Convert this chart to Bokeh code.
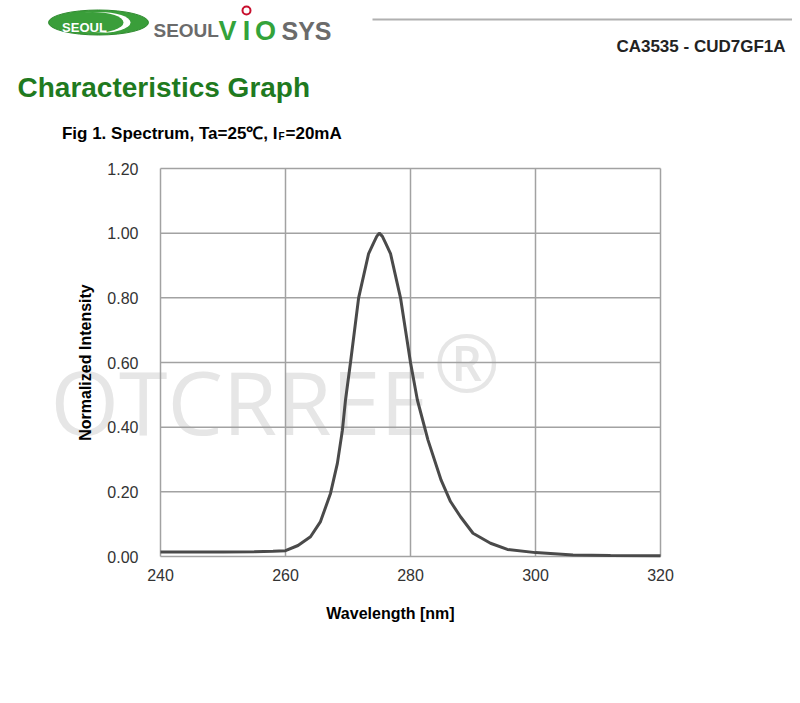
from bokeh.plotting import figure
from bokeh.models import Range1d, Label, FixedTicker, PrintfTickFormatter
from bokeh.embed import file_html
from bokeh.resources import INLINE

# spectrum
wavelength = [240, 245, 250, 255, 258, 260, 262, 264, 265.6, 267.2, 268.3, 269.1,
              269.6, 270.4, 271.7, 273.3, 274.1, 274.6, 275, 275.5, 276, 276.8,
              278.4, 280, 281.1, 282.8, 284.9, 286.4, 288, 290, 292.8, 295.5,
              300, 306, 312, 320]
intensity = [0.014, 0.014, 0.014, 0.015, 0.016, 0.018, 0.034, 0.061, 0.108, 0.195, 0.288, 0.39,
             0.484, 0.60, 0.80, 0.937, 0.97, 0.99, 1.0, 0.99, 0.97, 0.937,
             0.80, 0.60, 0.484, 0.36, 0.236, 0.17, 0.123, 0.072, 0.041, 0.022,
             0.012, 0.005, 0.003, 0.002]

x_ticks = [240, 260, 280, 300, 320]
y_ticks = [0.0, 0.2, 0.4, 0.6, 0.8, 1.0, 1.2]

FONT = "Liberation Sans"

# the page is laid out in pixels; chart frame is 500 x 388 px
X0, X1 = 160, 660      # page x of 240 nm / 320 nm
Y0, Y1 = 556, 168      # page y of 0.0 / 1.2
sx = (X1 - X0) / (x_ticks[-1] - x_ticks[0])
sy = (Y0 - Y1) / (y_ticks[-1] - y_ticks[0])
W, H = 792, 695


def px(x):
    return x_ticks[0] + (x - X0) / sx


def py(y):
    return y_ticks[0] + (Y0 - y) / sy


p = figure(width=W, height=H, x_range=Range1d(px(0), px(W)),
           y_range=Range1d(py(H), py(0)), toolbar_location=None,
           output_backend="svg", min_border=0, outline_line_color=None)
p.xgrid.visible = False
p.ygrid.visible = False


def label(x, y, text, size, color="black", bold=True, align="left", font=FONT, **kw):
    p.add_layout(Label(x=px(x), y=py(y), text=text, text_font=font,
                       text_font_style="bold" if bold else "normal",
                       text_font_size=size, text_color=color, text_align=align,
                       text_baseline="alphabetic", **kw))


# header: logo
p.ellipse(x=px(98), y=py(22), width=100, height=25, width_units="screen",
          height_units="screen", fill_color="#3a9e3a", line_color="#2f8a2f")
p.ellipse(x=px(98), y=py(22), width=64, height=21, width_units="screen",
          height_units="screen", fill_color="white", line_color=None)
p.ellipse(x=px(92), y=py(22), width=62, height=21, width_units="screen",
          height_units="screen", fill_color="#3a9e3a", line_color=None)
label(84, 27, "SEOUL", "13px", "white", align="center")
label(153, 30, "SEOUL", "19px", "#6b6b6b")
label(227, 30, "V", "27px", "#33a33a", align="center")
label(246, 30, "I", "27px", "#33a33a", align="center")
label(265, 30, "O", "27px", "#33a33a", align="center")
label(281, 30, "SYS", "25px", "#6b6b6b")
p.scatter(x=[px(246)], y=[py(10)], size=8, marker="circle", fill_color="white",
          line_color="#c8102e", line_width=2)

# rule and part number
p.line(x=[px(372), px(792)], y=[py(19), py(19)], line_color="#b0b0b0", line_width=2)
label(785, 46, "CA3535 - CUD7GF1A", "17px", "#222222", align="right")

label(17, 87, "Characteristics Graph", "28px", "#1f7a1f")
label(277, 133, "Fig 1. Spectrum, Ta=25\u2103, I", "17px", align="right")
label(278, 136, "F", "10px")
label(285, 133, "=20mA", "17px")

# watermark
label(50, 400, "OTCRREE", "88px", "#e6e6e6", bold=False, font="Open Sans", level="image")
label(433, 360, "\u00ae", "80px", "#e6e6e6", bold=False, font="Open Sans", level="image")

# grid lines drawn from the tick positions
p.segment(x0=x_ticks, y0=[y_ticks[0]] * len(x_ticks), x1=x_ticks,
          y1=[y_ticks[-1]] * len(x_ticks), line_color="#a2a2a2", line_width=1.5)
p.segment(x0=[x_ticks[0]] * len(y_ticks), y0=y_ticks, x1=[x_ticks[-1]] * len(y_ticks),
          y1=y_ticks, line_color="#a2a2a2", line_width=1.5)

p.line(wavelength, intensity, line_color="#4a4a4a", line_width=3)

# axes pinned to the chart frame
p.xaxis.fixed_location = y_ticks[0]
p.yaxis.fixed_location = x_ticks[0]
p.xaxis.bounds = (x_ticks[0], x_ticks[-1])
p.yaxis.bounds = (y_ticks[0], y_ticks[-1])
p.xaxis.ticker = FixedTicker(ticks=x_ticks)
p.yaxis.ticker = FixedTicker(ticks=y_ticks)
p.yaxis.formatter = PrintfTickFormatter(format="%.2f")

for ax in (p.xaxis, p.yaxis):
    ax.axis_line_color = None
    ax.major_tick_out = 0
    ax.major_tick_in = 0
    ax.minor_tick_line_color = None
    ax.major_label_text_font = FONT
    ax.major_label_text_font_size = "16px"
    ax.major_label_text_color = "#333333"

p.xaxis.major_label_standoff = 12
p.yaxis.major_label_standoff = 22

p.yaxis.axis_label = "Normalized Intensity"
p.yaxis.axis_label_text_font = FONT
p.yaxis.axis_label_text_font_style = "bold"
p.yaxis.axis_label_text_font_size = "16px"
p.yaxis.axis_label_text_color = "black"
p.yaxis.axis_label_standoff = 10

label(390, 613, "Wavelength [nm]", "16px", align="center")

open("out.html", "w").write(file_html(p, INLINE))
